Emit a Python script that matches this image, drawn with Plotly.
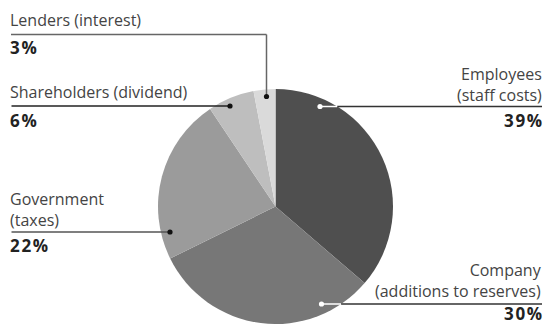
import math
import plotly.graph_objects as go

# ---- data ----
categories = ["Employees", "Company", "Government", "Shareholders", "Lenders"]
sublabels = ["(staff costs)", "(additions to reserves)", "(taxes)", "(dividend)", "(interest)"]
shares = [36.3, 31.4, 22.9, 6.4, 3.0]          # slice sizes as drawn
pct_labels = ["39%", "30%", "22%", "6%", "3%"]  # printed percentages
colors = ["#4f4f4f", "#777777", "#9b9b9b", "#bebebe", "#dadada"]

W, H = 544, 325
CX, CY, R = 275.5, 206.5, 117.5

def px(x):
    return x / W

def py(y):
    return 1 - y / H

fig = go.Figure()
fig.add_trace(go.Pie(
    labels=categories, values=shares, sort=False, direction="clockwise",
    rotation=0, marker=dict(colors=colors, line=dict(width=0)),
    textinfo="none", hoverinfo="skip", showlegend=False,
    domain=dict(x=[px(CX - R), px(CX + R)], y=[py(CY + R), py(CY - R)]),
))

shapes = []
ann = []
FAM = "Open Sans, Arial, sans-serif"
LBL = dict(family=FAM, size=16, color="#444444")
PCT = dict(family=FAM, size=17, color="#222222")
HS = "\u200a"

def pct(s):
    return "<b>" + HS.join(s) + "</b>"

def line(x0, y0, x1, y1, color, w=1.5):
    shapes.append(dict(type="line", xref="paper", yref="paper",
                       x0=px(x0), y0=py(y0), x1=px(x1), y1=py(y1),
                       line=dict(color=color, width=w)))

def dot(x, y, color, r=2.6):
    shapes.append(dict(type="circle", xref="paper", yref="paper",
                       x0=px(x - r), y0=py(y + r), x1=px(x + r), y1=py(y - r),
                       fillcolor=color, line=dict(width=0)))

def text(x, y, s, anchor, font, align=None):
    ann.append(dict(x=px(x), y=py(y), xref="paper", yref="paper", text=s,
                    showarrow=False, xanchor=anchor, yanchor="middle",
                    align=align or anchor, font=font, borderpad=0, borderwidth=0))

def edge_x(y, side):
    return CX + side * math.sqrt(R * R - (y - CY) ** 2)

# Employees (right, top)
y = 106.5
line(edge_x(y, 1), y, 542, y, "#333333")
line(320, y, edge_x(y, 1), y, "#ffffff")
dot(320, y, "#ffffff")
text(542, 84, categories[0] + "<br>" + sublabels[0], "right", LBL)
text(542, 120, pct(pct_labels[0]), "right", PCT)

# Company (right, bottom)
y = 304
line(edge_x(y, 1), y, 542, y, "#333333")
line(321.5, y, edge_x(y, 1), y, "#ffffff")
dot(321.5, y, "#ffffff")
text(542, 280.5, categories[1] + "<br>" + sublabels[1], "right", LBL)
text(542, 313.5, pct(pct_labels[1]), "right", PCT)

# Government (left, bottom)
y = 232
line(11.5, y, 170, y, "#555555")
dot(170, y, "#111111")
text(10, 209.5, categories[2] + "<br>" + sublabels[2], "left", LBL)
text(10, 245.5, pct(pct_labels[2]), "left", PCT)

# Shareholders (left, middle)
y = 106
line(11.5, y, 230, y, "#222222")
dot(230, y, "#111111")
text(10, 92, categories[3] + " " + sublabels[3], "left", LBL)
text(10, 120, pct(pct_labels[3]), "left", PCT)

# Lenders (left, top)
line(11, 34.5, 266.5, 34.5, "#666666")
line(266.5, 34.5, 266.5, 96.5, "#666666")
dot(266.5, 96.5, "#111111")
text(10, 20, categories[4] + " " + sublabels[4], "left", LBL)
text(10, 48, pct(pct_labels[4]), "left", PCT)

fig.update_layout(width=W, height=H, margin=dict(l=0, r=0, t=0, b=0),
                  paper_bgcolor="white", plot_bgcolor="white",
                  shapes=shapes, annotations=ann, showlegend=False)
fig.write_html("out.html", config={"displayModeBar": False},
               post_script="document.body.style.margin='0';document.body.style.overflow='hidden';")
